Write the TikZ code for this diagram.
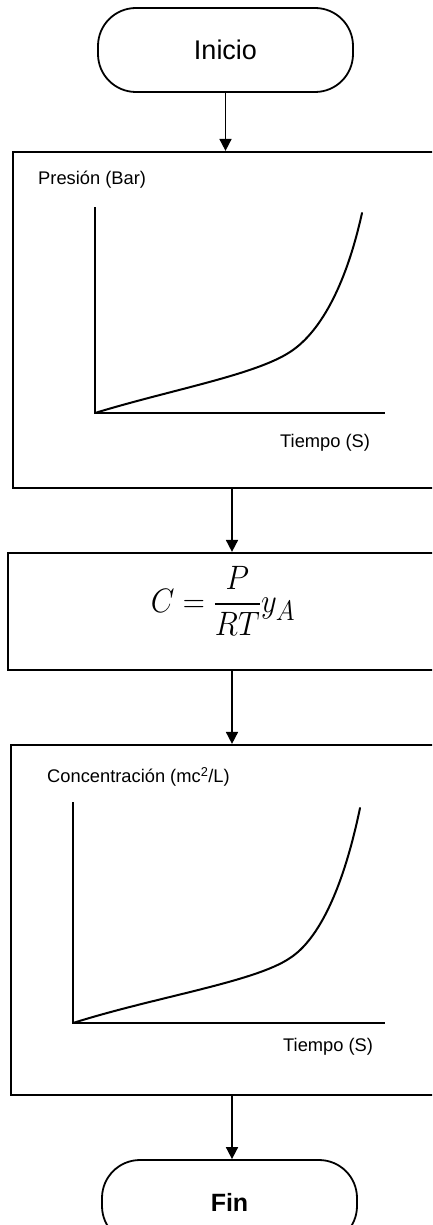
\documentclass[tikz,border=0pt]{standalone}
\usepackage{amsmath}
\usepackage{fontspec}
\setmainfont{Liberation Sans}
\usetikzlibrary{arrows.meta}
\begin{document}
\begin{tikzpicture}[x=1pt,y=-1pt,
  term/.style={draw, line width=1.8pt, rounded corners=38pt, minimum width=255pt,
               minimum height=84pt, inner sep=0pt},
  panel/.style={draw, line width=2.2pt, inner sep=0pt},
  flow/.style={line width=1.7pt, -{Triangle[length=12pt,width=12pt]}},
  axis/.style={line width=2.2pt},
  trend/.style={line width=2pt, line join=round, line cap=round},
  lbl/.style={font=\fontsize{18.3}{21}\selectfont, inner sep=0pt, anchor=west}
]
\useasboundingbox (0,0) rectangle (432,1225);
\clip (0,0) rectangle (432,1225);

% flowchart blocks
\node[term, font=\fontsize{27}{30}\selectfont] (inicio) at (225.5,50) {Inicio};
\node[panel, minimum width=438pt, minimum height=336pt] (pres) at (232,320) {};
\node[panel, minimum width=448pt, minimum height=117pt] (form) at (232,611.5) {};
\node[panel, minimum width=442pt, minimum height=350pt] (conc) at (232,920) {};
\node[term, font=\bfseries\fontsize{25}{30}\selectfont] (fin) at (229.5,1202) {Fin};

% formula inside the second block
\node[font=\fontsize{24.88}{28}\selectfont, inner sep=0pt] (eq) at (223,601)
  {\scalebox{1.23}[1.36]{$C=\dfrac{P}{RT}y_A$}};

% connectors
\draw[flow] (inicio.south) -- (inicio.south |- pres.north);
\draw[flow] (pres.south) -- (form.north);
\draw[flow] (form.south) -- (conc.north);
\draw[flow] (conc.south) -- (conc.south |- fin.north);

% pressure chart
\coordinate (o1) at (95,413);
\coordinate (y1) at (95,207);
\coordinate (x1) at (385,413);
\draw[axis] (y1) -- (o1) -- (x1);
\draw[trend] (o1) .. controls (170,390) and (255,375) .. (290,352)
  .. controls (318,334) and (345,290) .. (362,213);
\node[lbl] (plabel) at (38,180) {Presión (Bar)};
\node[lbl] (t1) at (280,443) {Tiempo (S)};

% concentration chart
\coordinate (o2) at (73,1023);
\coordinate (y2) at (73,802);
\coordinate (x2) at (385,1023);
\draw[axis] (y2) -- (o2) -- (x2);
\draw[trend] (o2) .. controls (155,997) and (255,982) .. (290,958)
  .. controls (318,940) and (343,890) .. (360,808);
\node[lbl] (clabel) at (47,777) {Concentración (mc\textsuperscript{2}/L)};
\node[lbl] (t2) at (283,1047) {Tiempo (S)};
\end{tikzpicture}
\end{document}
